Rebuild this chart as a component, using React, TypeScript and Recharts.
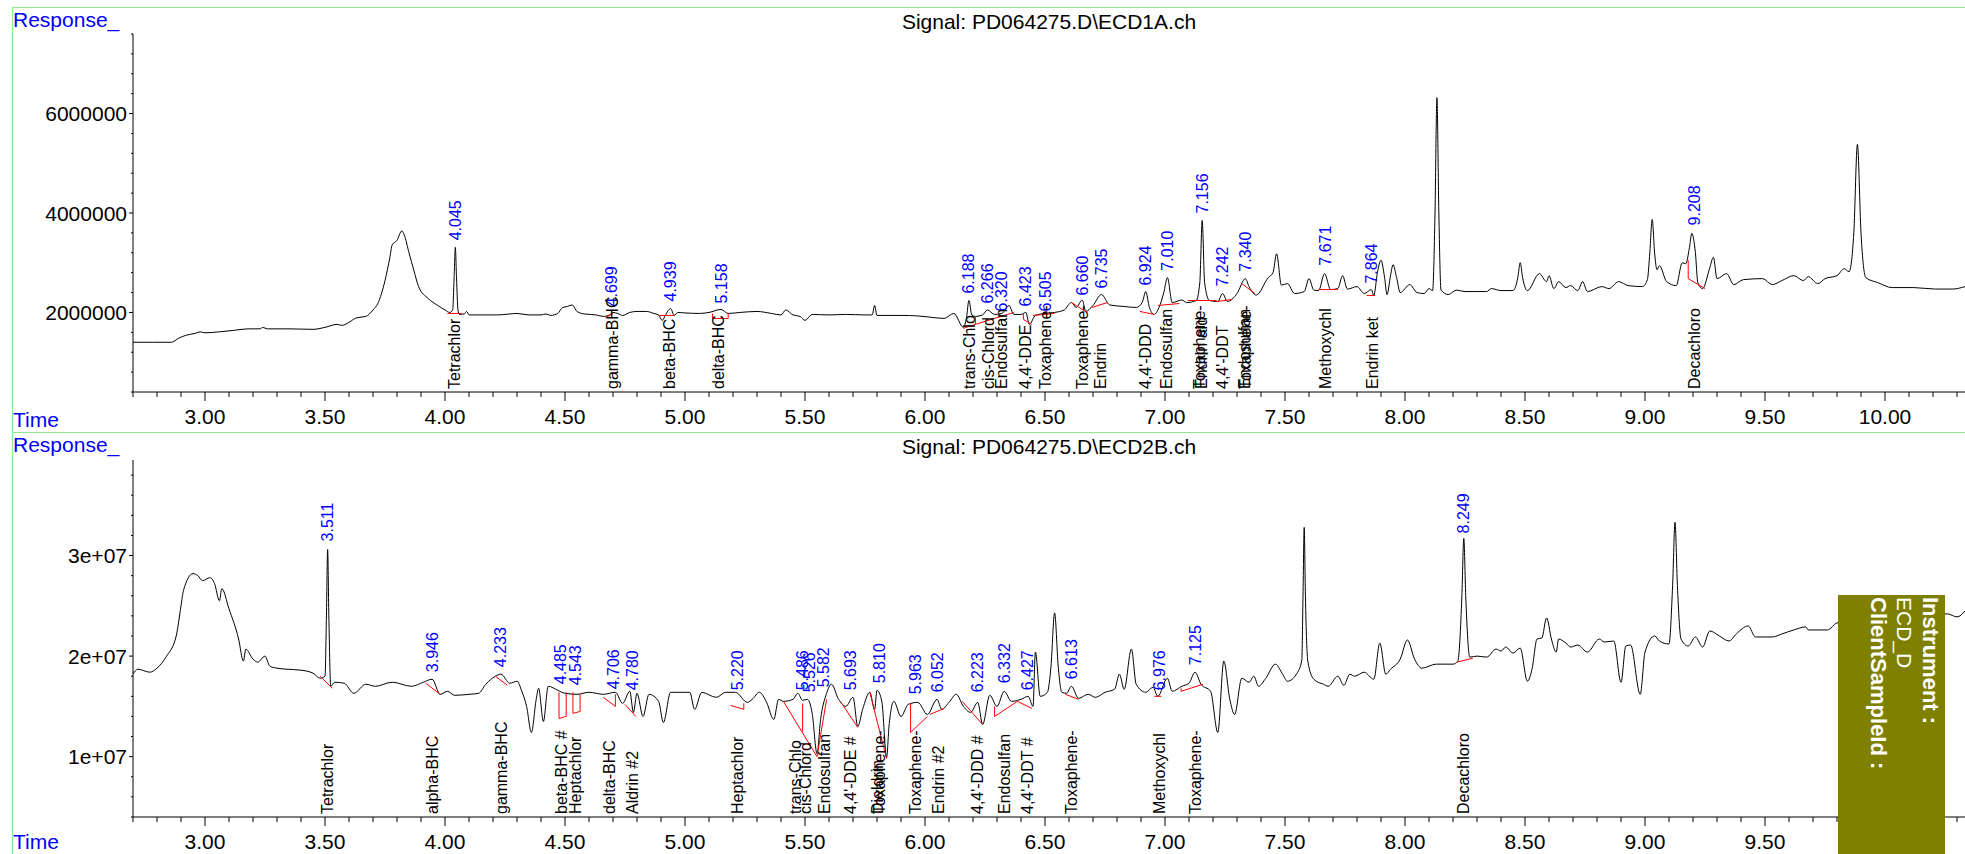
import React from 'react';
import { ComposedChart, Line, Scatter, XAxis, YAxis } from 'recharts';

type Pt = [number, number];

const FONT = '"Liberation Sans", Arial, Helvetica, sans-serif';
const T_MIN = 2.7;
const T_MAX = 10.3333;

// time axis (minutes)
const timeMajor = [3, 3.5, 4, 4.5, 5, 5.5, 6, 6.5, 7, 7.5, 8, 8.5, 9, 9.5, 10];
const timeMajorText = ['3.00', '3.50', '4.00', '4.50', '5.00', '5.50', '6.00', '6.50', '7.00', '7.50', '8.00', '8.50', '9.00', '9.50', '10.00'];

// ECD1A response axis, values in millions
const topYMajor = [2, 4, 6];
const topYMajorText = ['2000000', '4000000', '6000000'];
// ECD2B response axis, values in 1e7
const botYMajor = [1, 2, 3];
const botYMajorText = ['1e+07', '2e+07', '3e+07'];

// ECD1A trace [time, response(M)]
const ecd1aTrace: Pt[] = [
  [2.7, 1.4], [2.78, 1.4], [2.86, 1.4], [2.89, 1.48], [2.92, 1.54], [2.96, 1.58], [2.98, 1.61], [3.0, 1.59],
  [3.06, 1.61], [3.12, 1.64], [3.18, 1.67], [3.23, 1.67], [3.24, 1.7], [3.26, 1.67], [3.35, 1.67], [3.45, 1.66],
  [3.5, 1.7], [3.55, 1.76], [3.57, 1.74], [3.6, 1.8], [3.63, 1.89], [3.67, 1.92], [3.7, 2.05], [3.72, 2.18],
  [3.75, 2.64], [3.77, 3.1], [3.78, 3.36], [3.8, 3.45], [3.82, 3.64], [3.83, 3.56], [3.85, 3.2], [3.87, 2.85],
  [3.89, 2.52], [3.93, 2.28], [3.97, 2.14], [4.0, 2.05], [4.02, 2.0], [4.032, 2.05], [4.038, 2.7], [4.043, 3.31],
  [4.048, 2.7], [4.054, 2.05], [4.06, 1.96], [4.08, 1.97], [4.09, 2.02], [4.1, 1.95], [4.15, 1.95], [4.22, 1.95],
  [4.27, 1.97], [4.3, 1.98], [4.35, 1.95], [4.4, 1.95], [4.42, 1.97], [4.44, 1.94], [4.47, 1.98], [4.49, 2.1],
  [4.51, 2.12], [4.53, 2.15], [4.55, 2.02], [4.58, 1.97], [4.63, 1.95], [4.66, 1.92], [4.69, 1.96], [4.7, 2.0],
  [4.72, 1.98], [4.74, 1.94], [4.77, 2.0], [4.8, 2.02], [4.84, 2.02], [4.87, 1.98], [4.89, 1.95], [4.905, 1.84],
  [4.92, 1.96], [4.94, 2.08], [4.955, 1.94], [4.97, 2.0], [5.0, 1.99], [5.06, 1.98], [5.1, 2.0], [5.15, 2.06],
  [5.18, 1.98], [5.23, 2.0], [5.3, 2.02], [5.36, 1.98], [5.4, 1.95], [5.42, 2.05], [5.45, 1.95], [5.48, 1.92],
  [5.5, 1.84], [5.53, 1.96], [5.6, 1.95], [5.67, 1.96], [5.75, 1.95], [5.78, 1.95], [5.79, 2.14], [5.8, 1.94],
  [5.9, 1.94], [5.97, 1.93], [6.03, 1.9], [6.08, 1.88], [6.12, 1.98], [6.16, 1.7], [6.173, 1.9], [6.183, 2.24],
  [6.195, 1.95], [6.21, 1.92], [6.24, 1.95], [6.26, 2.05], [6.29, 1.96], [6.32, 1.98], [6.35, 2.14], [6.37, 1.96],
  [6.4, 1.96], [6.42, 2.0], [6.435, 1.76], [6.46, 1.94], [6.5, 1.98], [6.54, 2.0], [6.58, 2.05], [6.61, 2.2],
  [6.63, 2.1], [6.655, 2.25], [6.67, 2.02], [6.7, 2.14], [6.735, 2.36], [6.77, 2.15], [6.83, 2.12], [6.88, 2.1],
  [6.905, 2.2], [6.92, 2.42], [6.935, 2.1], [6.955, 1.96], [6.975, 2.1], [6.995, 2.4], [7.01, 2.7], [7.03, 2.2],
  [7.07, 2.25], [7.09, 2.2], [7.13, 2.24], [7.145, 2.6], [7.155, 3.85], [7.165, 2.6], [7.185, 2.24], [7.22, 2.22],
  [7.24, 2.38], [7.26, 2.22], [7.3, 2.38], [7.335, 2.68], [7.35, 2.52], [7.38, 2.35], [7.43, 2.7], [7.45, 2.8],
  [7.465, 3.18], [7.485, 2.55], [7.51, 2.58], [7.54, 2.38], [7.58, 2.42], [7.6, 2.68], [7.62, 2.45], [7.64, 2.44],
  [7.665, 2.78], [7.69, 2.46], [7.72, 2.48], [7.74, 2.74], [7.76, 2.47], [7.8, 2.52], [7.83, 2.38], [7.86, 2.46],
  [7.87, 2.34], [7.885, 2.8], [7.9, 3.05], [7.915, 2.7], [7.925, 2.36], [7.94, 2.75], [7.95, 2.96], [7.965, 2.7],
  [7.98, 2.4], [8.02, 2.56], [8.05, 2.4], [8.08, 2.38], [8.1, 2.48], [8.115, 2.44], [8.125, 4.0], [8.133, 6.32],
  [8.141, 4.0], [8.15, 2.45], [8.18, 2.36], [8.215, 2.45], [8.25, 2.42], [8.3, 2.42], [8.34, 2.42], [8.36, 2.48],
  [8.4, 2.44], [8.45, 2.44], [8.47, 2.7], [8.48, 3.0], [8.49, 2.7], [8.51, 2.44], [8.56, 2.78], [8.59, 2.62],
  [8.6, 2.74], [8.62, 2.48], [8.64, 2.62], [8.67, 2.5], [8.69, 2.54], [8.72, 2.44], [8.74, 2.62], [8.76, 2.42],
  [8.82, 2.52], [8.85, 2.48], [8.89, 2.62], [8.93, 2.54], [8.99, 2.52], [9.01, 2.66], [9.02, 3.2], [9.03, 3.87],
  [9.04, 3.2], [9.05, 2.86], [9.06, 2.94], [9.09, 2.62], [9.13, 2.54], [9.155, 3.0], [9.17, 2.98], [9.185, 3.3],
  [9.195, 3.59], [9.21, 3.2], [9.22, 2.6], [9.24, 2.48], [9.27, 2.9], [9.285, 3.11], [9.3, 2.68], [9.34, 2.78],
  [9.37, 2.56], [9.41, 2.66], [9.49, 2.68], [9.53, 2.56], [9.57, 2.64], [9.62, 2.74], [9.66, 2.64], [9.68, 2.72],
  [9.72, 2.58], [9.75, 2.68], [9.8, 2.74], [9.83, 2.88], [9.85, 2.82], [9.87, 3.6], [9.885, 5.38], [9.9, 3.6],
  [9.92, 2.7], [9.97, 2.6], [10.03, 2.5], [10.12, 2.5], [10.21, 2.47], [10.28, 2.47], [10.3333, 2.52],
];

// ECD2B trace [time, response(1e7)]
const ecd2bTrace: Pt[] = [
  [2.7, 1.82], [2.72, 1.87], [2.77, 1.84], [2.8, 1.88], [2.84, 2.0], [2.88, 2.2], [2.9, 2.5], [2.91, 2.65],
  [2.95, 2.82], [2.97, 2.8], [2.99, 2.75], [3.02, 2.78], [3.04, 2.72], [3.06, 2.55], [3.07, 2.67], [3.1, 2.47],
  [3.14, 2.17], [3.16, 1.95], [3.17, 2.07], [3.2, 1.97], [3.22, 1.94], [3.25, 2.0], [3.27, 1.9], [3.3, 1.88],
  [3.34, 1.87], [3.4, 1.86], [3.45, 1.83], [3.48, 1.78], [3.5, 1.8], [3.506, 2.4], [3.511, 3.06], [3.516, 2.4],
  [3.524, 1.7], [3.54, 1.74], [3.58, 1.73], [3.62, 1.63], [3.67, 1.72], [3.71, 1.7], [3.78, 1.74], [3.86, 1.7],
  [3.91, 1.74], [3.946, 1.77], [3.98, 1.62], [4.01, 1.65], [4.04, 1.61], [4.1, 1.62], [4.14, 1.63], [4.17, 1.72],
  [4.21, 1.8], [4.233, 1.82], [4.27, 1.73], [4.3, 1.75], [4.32, 1.65], [4.34, 1.5], [4.36, 1.24], [4.38, 1.57],
  [4.39, 1.68], [4.41, 1.35], [4.43, 1.7], [4.47, 1.66], [4.5, 1.63], [4.55, 1.62], [4.6, 1.64], [4.66, 1.62],
  [4.71, 1.64], [4.74, 1.53], [4.77, 1.65], [4.785, 1.44], [4.8, 1.63], [4.825, 1.4], [4.85, 1.62], [4.89, 1.55],
  [4.91, 1.34], [4.94, 1.64], [5.02, 1.64], [5.04, 1.47], [5.07, 1.64], [5.13, 1.59], [5.17, 1.64], [5.21, 1.64],
  [5.26, 1.54], [5.28, 1.57], [5.31, 1.64], [5.34, 1.54], [5.37, 1.37], [5.39, 1.57], [5.41, 1.55], [5.45, 1.57],
  [5.47, 1.63], [5.49, 1.56], [5.51, 1.57], [5.53, 1.43], [5.55, 1.03], [5.565, 1.37], [5.59, 1.63], [5.61, 1.72],
  [5.64, 1.57], [5.67, 1.5], [5.7, 1.59], [5.72, 1.3], [5.74, 1.47], [5.77, 1.64], [5.79, 1.47], [5.8, 1.66],
  [5.82, 1.55], [5.84, 0.99], [5.85, 1.3], [5.87, 1.55], [5.9, 1.4], [5.93, 1.52], [5.97, 1.54], [6.01, 1.42],
  [6.05, 1.57], [6.07, 1.47], [6.1, 1.54], [6.13, 1.62], [6.16, 1.5], [6.19, 1.44], [6.22, 1.54], [6.24, 1.32],
  [6.27, 1.61], [6.3, 1.5], [6.33, 1.65], [6.36, 1.55], [6.4, 1.57], [6.43, 1.6], [6.45, 1.5], [6.46, 2.04],
  [6.48, 1.6], [6.51, 1.64], [6.525, 1.9], [6.54, 2.43], [6.555, 1.9], [6.57, 1.64], [6.59, 1.63], [6.61, 1.7],
  [6.64, 1.58], [6.68, 1.62], [6.71, 1.59], [6.75, 1.64], [6.79, 1.67], [6.81, 1.82], [6.83, 1.67], [6.86, 2.07],
  [6.88, 1.72], [6.92, 1.64], [6.95, 1.69], [6.97, 1.6], [7.01, 1.78], [7.03, 1.65], [7.07, 1.7], [7.1, 1.73],
  [7.125, 1.84], [7.15, 1.72], [7.19, 1.65], [7.22, 1.24], [7.245, 1.95], [7.27, 1.57], [7.29, 1.42], [7.32, 1.78],
  [7.35, 1.74], [7.37, 1.8], [7.39, 1.7], [7.42, 1.78], [7.46, 1.92], [7.49, 1.82], [7.51, 1.75], [7.55, 1.83],
  [7.57, 1.96], [7.575, 2.6], [7.58, 3.28], [7.585, 2.6], [7.595, 1.95], [7.62, 1.77], [7.66, 1.72], [7.68, 1.7],
  [7.72, 1.8], [7.745, 1.71], [7.77, 1.82], [7.79, 1.8], [7.83, 1.84], [7.87, 1.77], [7.895, 2.13], [7.92, 1.82],
  [7.94, 1.87], [7.98, 1.97], [8.01, 2.16], [8.04, 1.97], [8.07, 1.88], [8.13, 1.92], [8.2, 1.92], [8.22, 1.95],
  [8.237, 2.6], [8.245, 3.17], [8.253, 2.6], [8.27, 1.99], [8.3, 2.0], [8.34, 1.99], [8.38, 2.07], [8.4, 2.05],
  [8.42, 2.09], [8.45, 2.03], [8.48, 2.08], [8.51, 1.75], [8.53, 1.88], [8.55, 2.17], [8.57, 2.18], [8.59, 2.38],
  [8.61, 2.17], [8.63, 2.04], [8.64, 2.17], [8.67, 2.13], [8.69, 2.09], [8.72, 2.11], [8.76, 2.04], [8.81, 2.17],
  [8.83, 2.14], [8.87, 2.15], [8.9, 1.74], [8.92, 2.1], [8.94, 2.11], [8.98, 1.62], [9.0, 2.04], [9.04, 2.2],
  [9.06, 2.15], [9.1, 2.12], [9.115, 2.7], [9.125, 3.33], [9.135, 2.7], [9.15, 2.17], [9.18, 2.1], [9.21, 2.19],
  [9.24, 2.09], [9.27, 2.25], [9.31, 2.2], [9.35, 2.15], [9.38, 2.22], [9.43, 2.3], [9.46, 2.19], [9.53, 2.19],
  [9.57, 2.22], [9.62, 2.26], [9.67, 2.29], [9.68, 2.26], [9.76, 2.26], [9.8, 2.33], [9.9, 2.36], [10.05, 2.38],
  [10.2, 2.4], [10.26, 2.42], [10.3, 2.39], [10.3333, 2.45],
];

// integration baselines (red)
const ecd1aBaselines: Pt[][] = [
  [[4.01, 1.98], [4.07, 1.98]],
  [[4.67, 1.9], [4.7, 1.98]],
  [[4.89, 1.94], [4.955, 1.94]],
  [[5.115, 1.98], [5.115, 1.88], [5.18, 1.88], [5.18, 1.98]],
  [[6.16, 1.68], [6.21, 1.76], [6.37, 2.0]],
  [[6.21, 1.76], [6.21, 1.92]],
  [[6.41, 1.98], [6.41, 1.86], [6.445, 1.76]],
  [[6.45, 1.94], [6.54, 1.98]],
  [[6.61, 2.2], [6.675, 2.0]],
  [[6.695, 2.1], [6.76, 2.2]],
  [[6.895, 2.02], [6.955, 1.96]],
  [[6.97, 2.14], [7.06, 2.18]],
  [[7.095, 2.24], [7.215, 2.24]],
  [[7.215, 2.22], [7.28, 2.26]],
  [[7.32, 2.58], [7.375, 2.38]],
  [[7.64, 2.46], [7.72, 2.46]],
  [[7.84, 2.34], [7.875, 2.34]],
  [[9.18, 3.05], [9.18, 2.68], [9.25, 2.48]],
];

const ecd2bBaselines: Pt[][] = [
  [[3.48, 1.8], [3.53, 1.68]],
  [[3.92, 1.73], [3.98, 1.62]],
  [[4.21, 1.8], [4.26, 1.71]],
  [[4.475, 1.64], [4.475, 1.38], [4.505, 1.4], [4.505, 1.64]],
  [[4.533, 1.64], [4.533, 1.43], [4.563, 1.45], [4.563, 1.62]],
  [[4.66, 1.59], [4.71, 1.5], [4.71, 1.62]],
  [[4.75, 1.52], [4.795, 1.4]],
  [[5.19, 1.51], [5.245, 1.47], [5.245, 1.53]],
  [[5.41, 1.55], [5.55, 1.0], [5.59, 1.57]],
  [[5.49, 1.53], [5.49, 1.25]],
  [[5.65, 1.54], [5.72, 1.29]],
  [[5.77, 1.64], [5.84, 0.98]],
  [[5.94, 1.53], [5.94, 1.24], [6.01, 1.4]],
  [[6.02, 1.42], [6.08, 1.48]],
  [[6.155, 1.55], [6.24, 1.32]],
  [[6.29, 1.5], [6.29, 1.4], [6.385, 1.55], [6.445, 1.48]],
  [[6.585, 1.62], [6.64, 1.57]],
  [[6.955, 1.6], [6.985, 1.6]],
  [[7.067, 1.68], [7.067, 1.65], [7.158, 1.72]],
  [[8.217, 1.94], [8.283, 1.98]],
];

// retention time labels
const ecd1aRt = [4.045, 4.695, 4.94, 5.15, 6.183, 6.26, 6.32, 6.42, 6.5, 6.655, 6.735, 6.92, 7.01, 7.155, 7.24, 7.335, 7.667, 7.86, 9.205];
const ecd1aRtText = ['4.045', '4.699', '4.939', '5.158', '6.188', '6.266', '6.320', '6.423', '6.505', '6.660', '6.735', '6.924', '7.010', '7.156', '7.242', '7.340', '7.671', '7.864', '9.208'];
const ecd1aRtLevel = [3.41, 2.08, 2.18, 2.14, 2.34, 2.14, 1.98, 2.08, 1.98, 2.3, 2.44, 2.5, 2.8, 3.95, 2.48, 2.78, 2.9, 2.54, 3.71];

const ecd2bRt = [3.51, 3.946, 4.233, 4.48, 4.545, 4.7, 4.78, 5.217, 5.49, 5.52, 5.575, 5.69, 5.81, 5.96, 6.05, 6.22, 6.33, 6.425, 6.61, 6.975, 7.125, 8.245];
const ecd2bRtText = ['3.511', '3.946', '4.233', '4.485', '4.543', '4.706', '4.780', '5.220', '5.486', '5.526', '5.582', '5.693', '5.810', '5.963', '6.052', '6.223', '6.332', '6.427', '6.613', '6.976', '7.125', '8.249'];
const ecd2bRtLevel = [3.12, 1.82, 1.87, 1.7, 1.69, 1.65, 1.64, 1.64, 1.64, 1.62, 1.67, 1.64, 1.71, 1.6, 1.62, 1.62, 1.71, 1.64, 1.75, 1.64, 1.89, 3.2];

// compound names along the time axis
const ecd1aCmpTime = [4.04, 4.696, 4.937, 5.14, 6.185, 6.265, 6.32, 6.42, 6.5, 6.655, 6.73, 6.92, 7.005, 7.145, 7.15, 7.24, 7.33, 7.335, 7.667, 7.863, 9.205];
const ecd1aCmpName = ['Tetrachlor', 'gamma-BHC', 'beta-BHC', 'delta-BHC', 'trans-Chlo', 'cis-Chlord', 'Endosulfan', "4,4'-DDE", 'Toxaphene-', 'Toxaphene-', 'Endrin', "4,4'-DDD", 'Endosulfan', 'Toxaphene-', 'Endrin ald', "4,4'-DDT", 'Endosulfan', 'Toxaphene-', 'Methoxychl', 'Endrin ket', 'Decachloro'];

const ecd2bCmpTime = [3.51, 3.946, 4.235, 4.485, 4.545, 4.685, 4.78, 5.217, 5.46, 5.5, 5.58, 5.69, 5.8, 5.81, 5.96, 6.055, 6.22, 6.332, 6.425, 6.61, 6.975, 7.125, 8.245];
const ecd2bCmpName = ['Tetrachlor', 'alpha-BHC', 'gamma-BHC', 'beta-BHC #', 'Heptachlor', 'delta-BHC', 'Aldrin #2', 'Heptachlor', 'trans-Chlo', 'cis-Chlord', 'Endosulfan', "4,4'-DDE #", 'Dieldrin', 'Toxaphene-', 'Toxaphene-', 'Endrin #2', "4,4'-DDD #", 'Endosulfan', "4,4'-DDT #", 'Toxaphene-', 'Methoxychl', 'Toxaphene-', 'Decachloro'];

const timeTicks = Array.from({ length: 77 }, (_, i) => +(T_MIN + i * 0.1).toFixed(1));
const topYTicks = Array.from({ length: 19 }, (_, i) => +((i + 1) * 0.4).toFixed(1));
const botYTicks = Array.from({ length: 18 }, (_, i) => +((i + 2) * 0.2).toFixed(1));

const toRows = (pts: Pt[]) => pts.map(([t, v]) => ({ t, v }));

function TimeTick(props: any) {
  const { x, y, payload } = props;
  const idx = timeMajor.findIndex((m) => Math.abs(m - payload.value) < 1e-6);
  const major = idx >= 0;
  return (
    <g>
      <line x1={x} x2={x} y1={y} y2={y + (major ? 9 : 5)} stroke="#000" strokeWidth={1} />
      {major && (
        <text x={x} y={y + 32} textAnchor="middle" fontSize={21} fontFamily={FONT} fill="#000">
          {timeMajorText[idx]}
        </text>
      )}
    </g>
  );
}

function makeRespTick(majors: number[], texts: string[]) {
  return function RespTick(props: any) {
    const { x, y, payload } = props;
    const idx = majors.findIndex((m) => Math.abs(m - payload.value) < 1e-6);
    const major = idx >= 0;
    return (
      <g>
        <line x1={x - (major ? 4 : 2)} x2={x} y1={y} y2={y} stroke="#000" strokeWidth={1} />
        {major && (
          <text x={x - 6} y={y + 7.5} textAnchor="end" fontSize={21} fontFamily={FONT} fill="#000">
            {texts[idx]}
          </text>
        )}
      </g>
    );
  };
}

const RtLabel = (props: any) => {
  const { cx, cy, payload } = props;
  if (cx == null || cy == null) return <g />;
  return (
    <text transform={`translate(${cx + 5.5},${cy - 2}) rotate(-90)`} fontSize={16} fontFamily={FONT} fill="#0000ff">
      {payload.text}
    </text>
  );
};

const CmpLabel = (props: any) => {
  const { cx, cy, payload } = props;
  if (cx == null || cy == null) return <g />;
  return (
    <text transform={`translate(${cx + 5.5},${cy - 3}) rotate(-90)`} fontSize={16} fontFamily={FONT} fill="#000">
      {payload.text}
    </text>
  );
};

interface PanelProps {
  height: number;
  top: number;
  bottom: number;
  yDomain: [number, number];
  yTicks: number[];
  yTick: (p: any) => React.ReactElement;
  trace: Pt[];
  baselines: Pt[][];
  rt: number[];
  rtText: string[];
  rtLevel: number[];
  cmpTime: number[];
  cmpName: string[];
}

function Panel(p: PanelProps) {
  const rtRows = p.rt.map((t, i) => ({ t, v: p.rtLevel[i], text: p.rtText[i] }));
  const cmpRows = p.cmpTime.map((t, i) => ({ t, v: p.yDomain[0], text: p.cmpName[i] }));
  return (
    <ComposedChart width={1965} height={p.height} margin={{ top: p.top, right: 0, bottom: p.bottom, left: 13 }}>
      <XAxis
        type="number"
        dataKey="t"
        domain={[T_MIN, T_MAX]}
        allowDataOverflow
        ticks={timeTicks}
        interval={0}
        tick={<TimeTick />}
        tickLine={false}
        tickSize={0}
        tickMargin={0}
        height={30}
        axisLine={{ stroke: '#000', strokeWidth: 1 }}
      />
      <YAxis
        type="number"
        dataKey="v"
        domain={p.yDomain}
        allowDataOverflow
        ticks={p.yTicks}
        interval={0}
        tick={p.yTick}
        tickLine={false}
        tickSize={0}
        tickMargin={0}
        width={120}
        axisLine={{ stroke: '#000', strokeWidth: 1 }}
      />
      <Line
        data={toRows(p.trace)}
        dataKey="v"
        type="monotone"
        stroke="#000"
        strokeWidth={1}
        dot={false}
        activeDot={false}
        isAnimationActive={false}
      />
      {p.baselines.map((seg, i) => (
        <Line
          key={`bl-${i}`}
          data={toRows(seg)}
          dataKey="v"
          type="linear"
          stroke="#ff0000"
          strokeWidth={1}
          dot={false}
          activeDot={false}
          isAnimationActive={false}
        />
      ))}
      <Scatter data={rtRows} dataKey="v" shape={RtLabel} isAnimationActive={false} />
      <Scatter data={cmpRows} dataKey="v" shape={CmpLabel} isAnimationActive={false} />
    </ComposedChart>
  );
}

const TopYTick = makeRespTick(topYMajor, topYMajorText);
const BotYTick = makeRespTick(botYMajor, botYMajorText);

export default function App() {
  const green = '#8ee88e';
  return (
    <div style={{ position: 'absolute', left: 0, top: 0, width: 1965, height: 854, overflow: 'hidden', background: '#fff', fontFamily: FONT }}>
      <div style={{ position: 'absolute', left: 0, top: 0 }}>
        <Panel
          height={432}
          top={34}
          bottom={10}
          yDomain={[0.4, 7.6]}
          yTicks={topYTicks}
          yTick={(props: any) => <TopYTick {...props} />}
          trace={ecd1aTrace}
          baselines={ecd1aBaselines}
          rt={ecd1aRt}
          rtText={ecd1aRtText}
          rtLevel={ecd1aRtLevel}
          cmpTime={ecd1aCmpTime}
          cmpName={ecd1aCmpName}
        />
      </div>
      <div style={{ position: 'absolute', left: 0, top: 432 }}>
        <Panel
          height={422}
          top={28}
          bottom={7}
          yDomain={[0.4, 3.95]}
          yTicks={botYTicks}
          yTick={(props: any) => <BotYTick {...props} />}
          trace={ecd2bTrace}
          baselines={ecd2bBaselines}
          rt={ecd2bRt}
          rtText={ecd2bRtText}
          rtLevel={ecd2bRtLevel}
          cmpTime={ecd2bCmpTime}
          cmpName={ecd2bCmpName}
        />
      </div>
      <svg width={1965} height={854} style={{ position: 'absolute', left: 0, top: 0, pointerEvents: 'none' }}>
        <line x1={12.5} x2={1965} y1={7.5} y2={7.5} stroke={green} />
        <line x1={12.5} x2={1965} y1={432.5} y2={432.5} stroke={green} />
        <line x1={12.5} x2={12.5} y1={7.5} y2={854} stroke={green} />
        <text x={13} y={27} fontSize={21} fontFamily={FONT} fill="#0000ff">Response_</text>
        <text x={13} y={427} fontSize={21} fontFamily={FONT} fill="#0000ff">Time</text>
        <text x={1049} y={29} fontSize={21} fontFamily={FONT} fill="#000" textAnchor="middle">{'Signal: PD064275.D\\ECD1A.ch'}</text>
        <text x={13} y={452} fontSize={21} fontFamily={FONT} fill="#0000ff">Response_</text>
        <text x={13} y={849} fontSize={21} fontFamily={FONT} fill="#0000ff">Time</text>
        <text x={1049} y={454} fontSize={21} fontFamily={FONT} fill="#000" textAnchor="middle">{'Signal: PD064275.D\\ECD2B.ch'}</text>
      </svg>
      <div
        style={{
          position: 'absolute',
          left: 1838,
          top: 595,
          width: 107,
          height: 259,
          background: '#808000',
          color: '#fff',
          writingMode: 'vertical-rl',
          boxSizing: 'border-box',
          paddingTop: 2,
          paddingRight: 2,
          lineHeight: '26px',
          fontFamily: FONT,
        }}
      >
        <div style={{ fontWeight: 'bold', fontSize: 22 }}>Instrument :</div>
        <div style={{ fontSize: 21 }}>ECD_D</div>
        <div style={{ fontWeight: 'bold', fontSize: 22 }}>ClientSampleId :</div>
      </div>
    </div>
  );
}
